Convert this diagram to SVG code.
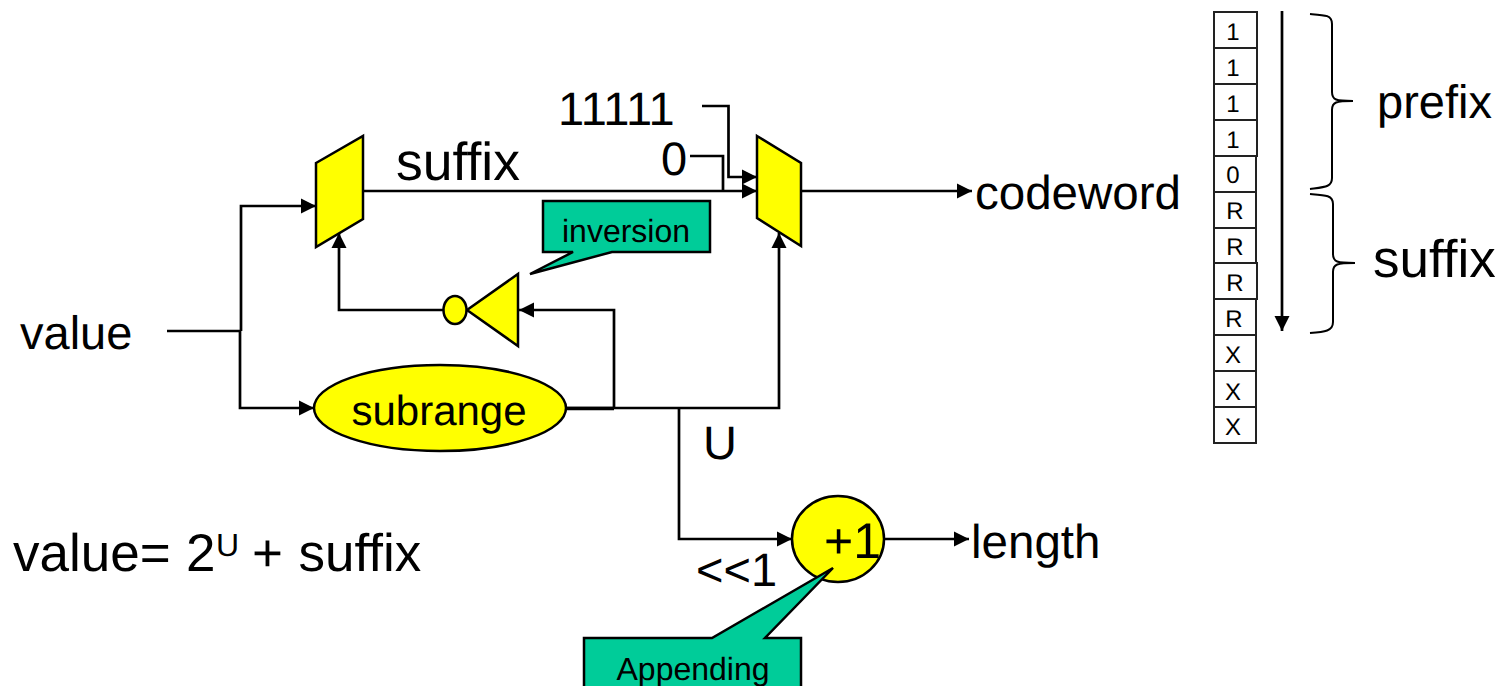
<svg xmlns="http://www.w3.org/2000/svg" width="1506" height="686" viewBox="0 0 1506 686">
<style>
text{font-family:"Liberation Sans",Arial,sans-serif;fill:#000;text-rendering:geometricPrecision}
.l{font-size:47px}
.m{font-size:47.500px}
.s{font-size:53px}
.c{font-size:24px;text-anchor:middle}
.w{fill:none;stroke:#000;stroke-width:2.7}
.a{fill:none;stroke:#000;stroke-width:2.7;marker-end:url(#ah)}
.y{fill:#ff0;stroke:#000;stroke-width:2.5}
.t{fill:#00cc99;stroke:#000;stroke-width:2.5}
.b{fill:#fff;stroke:#222;stroke-width:2}
.br{fill:none;stroke:#000;stroke-width:2}
</style>
<defs>
<marker id="ah" markerUnits="userSpaceOnUse" markerWidth="16" markerHeight="16" refX="15" refY="8" orient="auto"><path d="M0 0.5L15 8L0 15.5Z" fill="#000"/></marker>
</defs>
<rect width="1506" height="686" fill="#fff"/>
<g id="connectors">
<path class="w" d="M167 331H241"/>
<path class="a" d="M241 331V206H316"/>
<path class="a" d="M240 331V408H314"/>
<path class="a" d="M363 191H757"/>
<path class="a" d="M702 106H728.500V177H757"/>
<path class="w" d="M690 156H723V191"/>
<path class="a" d="M801 191H972"/>
<path class="a" d="M444 310H339V233"/>
<path class="a" d="M614 408V310H519"/>
<path class="w" d="M566 408.500H614" style="stroke-width:3.500"/>
<path class="a" d="M566 408H779V233"/>
<path class="a" d="M679 408V539H792"/>
<path class="a" d="M884 539H969"/>
<path class="a" d="M1282 11V331"/>
<path class="br" d="M1310 14C1325 15 1332 15 1332 24V92C1332 100 1336 101 1353 101C1336 101 1332 102 1332 110V178C1332 187 1325 187 1310 189"/>
<path class="br" d="M1310 194C1325 195 1333 195 1333 204V254C1333 262 1337 263 1355 263C1337 263 1333 264 1333 272V322C1333 331 1325 332 1310 333"/>
</g>
<g id="mux-left"><polygon class="y" points="316,163 363,136 363,219 316,247"/></g>
<g id="mux-right"><polygon class="y" points="757,136 801,163 801,246 757,218"/></g>
<g id="inverter"><polygon class="y" points="467,310 518,274 518,346"/><ellipse class="y" cx="455" cy="310" rx="11.500" ry="14"/></g>
<g id="subrange"><ellipse class="y" cx="440" cy="408" rx="126" ry="43"/><text x="439" y="425" style="font-size:42px;text-anchor:middle">subrange</text></g>
<g id="plus-one"><ellipse class="y" cx="838" cy="539" rx="46" ry="43"/><text x="824" y="558" style="font-size:50px">+1</text></g>
<g id="callout-inversion"><polygon class="t" points="543,201 710,201 710,252 612,252 530,274 573,252 543,252"/><text x="626" y="242" style="font-size:32px;text-anchor:middle">inversion</text></g>
<g id="callout-appending"><polygon class="t" points="584,638 712,638 833,568 765,638 801,638 801,700 584,700"/><text x="693" y="680" style="font-size:32px;text-anchor:middle">Appending</text></g>
<g id="labels">
<text x="20" y="349" class="l">value</text>
<text x="396" y="180" style="font-size:53.500px">suffix</text>
<text x="558" y="125" class="l">11111</text>
<text x="661" y="175" class="l">0</text>
<text x="975" y="209" class="m">codeword</text>
<text x="703" y="459" class="l">U</text>
<text x="971" y="558" class="m">length</text>
<text x="696" y="586" class="l">&lt;&lt;1</text>
<text x="13" y="571" class="s">value=<tspan x="186">2</tspan><tspan x="216" y="556" font-size="32">U</tspan><tspan x="252" y="571">+</tspan><tspan x="298.500">suffix</tspan></text>
<text x="1377" y="118" class="l">prefix</text>
<text x="1373" y="277" class="s">suffix</text>
</g>
<g id="register">
<rect class="b" x="1214" y="12" width="43" height="36"/><text class="c" x="1233" y="40">1</text>
<rect class="b" x="1214" y="48" width="43" height="36"/><text class="c" x="1233" y="76">1</text>
<rect class="b" x="1214" y="84" width="43" height="36"/><text class="c" x="1233" y="112">1</text>
<rect class="b" x="1214" y="120" width="43" height="36"/><text class="c" x="1233" y="148">1</text>
<rect class="b" x="1214" y="156" width="42" height="36"/><text class="c" x="1233" y="183">0</text>
<rect class="b" x="1214" y="192" width="42" height="36"/><text class="c" x="1235" y="219">R</text>
<rect class="b" x="1214" y="228" width="42" height="35"/><text class="c" x="1235" y="255">R</text>
<rect class="b" x="1214" y="263" width="43" height="36"/><text class="c" x="1235" y="291">R</text>
<rect class="b" x="1214" y="299" width="42" height="36"/><text class="c" x="1234" y="327">R</text>
<rect class="b" x="1214" y="335" width="42" height="36"/><text class="c" x="1233" y="363">X</text>
<rect class="b" x="1214" y="371" width="42" height="36"/><text class="c" x="1233" y="400">X</text>
<rect class="b" x="1214" y="407" width="42" height="36"/><text class="c" x="1233" y="435">X</text>
</g>
</svg>
